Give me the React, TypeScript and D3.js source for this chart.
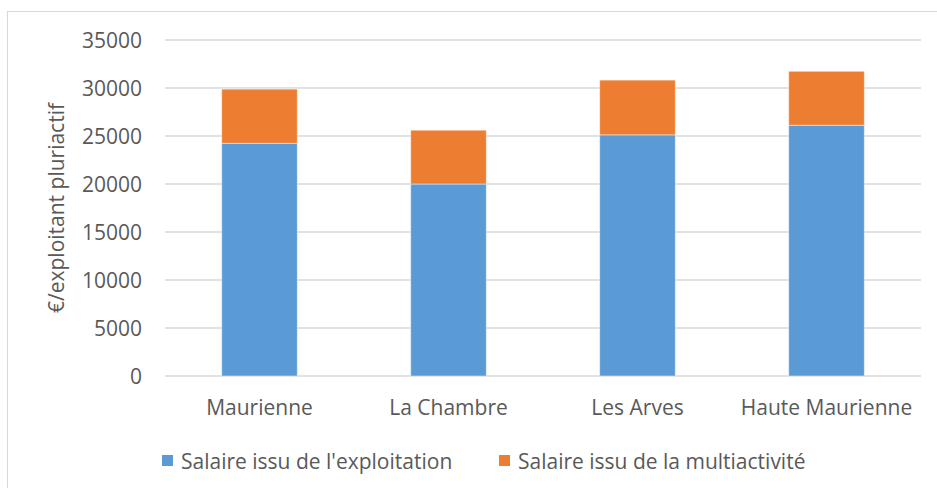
import React from "react";
import * as d3 from "d3";

const categories = ["Maurienne", "La Chambre", "Les Arves", "Haute Maurienne"];
const exploitation = [24240, 20000, 25120, 26120];
const multiactivite = [5640, 5600, 5700, 5620];
const seriesNames = ["Salaire issu de l'exploitation", "Salaire issu de la multiactivité"];
const seriesColors = ["#5B9BD5", "#ED7D31"];
const yTicks = [0, 5000, 10000, 15000, 20000, 25000, 30000, 35000];

const W = 937;
const H = 488;
const margin = { left: 165, right: 16, top: 40, bottom: 112 };
const FONT = "'Open Sans', sans-serif";
const TEXT = "#595959";
const FS = 21;

export default function App() {
  const x = d3
    .scaleBand<string>()
    .domain(categories)
    .range([margin.left, W - margin.right])
    .paddingInner(0.6)
    .paddingOuter(0.3);
  const y = d3.scaleLinear().domain([0, 35000]).range([H - margin.bottom, margin.top]);

  const rows = categories.map((c, i) => ({ cat: c, exploitation: exploitation[i], multiactivite: multiactivite[i] }));
  const stack = d3.stack<any>().keys(["exploitation", "multiactivite"])(rows);

  const legendX = [162, 499];

  return (
    <svg width={W} height={H} style={{ position: "absolute", left: 0, top: 0, fontFamily: FONT }}>
      <rect x={0} y={0} width={W} height={H} fill="#fff" />
      <rect x={7.5} y={11.5} width={W + 10} height={H + 10} fill="none" stroke="#D9D9D9" />
      {yTicks.map((t) => (
        <g key={t}>
          <line x1={margin.left} x2={W - margin.right} y1={y(t)} y2={y(t)} stroke="#D9D9D9" strokeWidth={1.3} />
          <text x={142} y={y(t)} dy="0.36em" textAnchor="end" fontSize={FS} fill={TEXT}>
            {t}
          </text>
        </g>
      ))}
      {stack.map((s, si) =>
        s.map((d, i) => (
          <rect
            key={si + "-" + i}
            x={x(categories[i])}
            y={y(d[1])}
            width={x.bandwidth()}
            height={y(d[0]) - y(d[1])}
            fill={seriesColors[si]}
            stroke="#fff"
            strokeOpacity={0.45}
            strokeWidth={1}
          />
        ))
      )}
      {categories.map((c) => (
        <text key={c} x={(x(c) as number) + x.bandwidth() / 2} y={415} textAnchor="middle" fontSize={FS} fill={TEXT}>
          {c}
        </text>
      ))}
      <text
        transform={`translate(64,${(margin.top + H - margin.bottom) / 2}) rotate(-90)`}
        textAnchor="middle"
        fontSize={FS}
        fill={TEXT}
      >
        €/exploitant pluriactif
      </text>
      {seriesNames.map((n, i) => (
        <g key={n}>
          <rect x={legendX[i]} y={455} width={11} height={11} fill={seriesColors[i]} />
          <text x={legendX[i] + 19} y={461} dy="0.36em" fontSize={FS} fill={TEXT}>
            {n}
          </text>
        </g>
      ))}
    </svg>
  );
}
